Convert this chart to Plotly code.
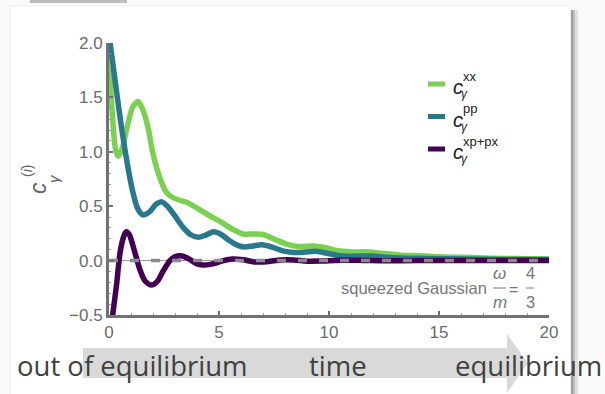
import plotly.graph_objects as go

# ---------------- data ----------------
t_xx = [0.0, 0.15, 0.3, 0.42, 0.6, 0.85, 1.1, 1.33, 1.55, 1.8, 1.95, 2.1, 2.35, 2.6, 2.9, 3.2,
        3.6, 4.1, 4.6, 5.05, 5.6, 6.1, 6.6, 7.0, 7.6, 8.1, 8.6, 9.3, 9.8, 10.4, 11.0, 11.8,
        12.5, 13.3, 14.2, 15.0, 16.0, 17.0, 18.0, 19.0, 20.0]
v_xx = [1.88, 1.35, 1.02, 0.96, 1.03, 1.25, 1.42, 1.46, 1.38, 1.2, 1.03, 0.9, 0.74, 0.63, 0.58, 0.555,
        0.53, 0.47, 0.41, 0.36, 0.29, 0.245, 0.245, 0.24, 0.19, 0.15, 0.13, 0.135, 0.12, 0.09, 0.08, 0.08,
        0.065, 0.05, 0.045, 0.035, 0.03, 0.025, 0.02, 0.018, 0.015]

t_pp = [0.05, 0.3, 0.55, 0.8, 1.05, 1.3, 1.55, 1.85, 2.15, 2.4, 2.7, 3.0, 3.35, 3.7, 4.05, 4.4,
        4.75, 5.1, 5.5, 5.85, 6.15, 6.55, 6.95, 7.4, 7.9, 8.4, 8.9, 9.4, 9.9, 10.4, 10.9, 11.5,
        12.0, 12.6, 13.5, 14.5, 16.0, 18.0, 20.0]
v_pp = [2.0, 1.62, 1.25, 0.93, 0.66, 0.48, 0.42, 0.45, 0.52, 0.54, 0.49, 0.41, 0.31, 0.24, 0.215, 0.235,
        0.265, 0.24, 0.18, 0.14, 0.125, 0.135, 0.145, 0.125, 0.09, 0.075, 0.078, 0.085, 0.068, 0.048, 0.04, 0.043,
        0.042, 0.03, 0.022, 0.02, 0.015, 0.01, 0.01]

t_xp = [0.0, 0.17, 0.35, 0.5, 0.65, 0.78, 0.92, 1.1, 1.4, 1.65, 1.95, 2.2, 2.45, 2.77, 3.0, 3.25,
        3.6, 4.0, 4.35, 4.8, 5.2, 5.6, 6.1, 6.6, 7.2, 7.8, 8.4, 9.0, 9.6, 10.5, 11.5, 12.5,
        14.0, 16.0, 20.0]
v_xp = [-0.85, -0.5, -0.21, 0.07, 0.21, 0.265, 0.24, 0.13, -0.08, -0.19, -0.225, -0.19, -0.1, 0.0, 0.035, 0.045,
        0.02, -0.03, -0.04, -0.025, 0.0, 0.015, 0.008, -0.012, -0.01, 0.006, 0.006, -0.005, -0.004, 0.003, 0.002, -0.002,
        0.0, 0.0, 0.0]

eq_t = [0, 20]
eq_v = [0, 0]

x_ticks = [0, 5, 10, 15, 20]
y_ticks = [-0.5, 0.0, 0.5, 1.0, 1.5, 2.0]

names = ["c_γ^xx", "c_γ^pp", "c_γ^xp+px"]
sups = ["xx", "pp", "xp+px"]
colors = ["#7ad151", "#2a788e", "#440154"]

# ---------------- geometry helpers ----------------
W, H = 605, 394
L, R, T, B = 109, 549, 43, 315


def px(x):
    return (x - L) / (R - L)


def py(y):
    return (B - y) / (B - T)


fig = go.Figure()
for t, v, c, n in [(t_xx, v_xx, colors[0], names[0]),
                   (t_pp, v_pp, colors[1], names[1]),
                   (t_xp, v_xp, colors[2], names[2])]:
    fig.add_trace(go.Scatter(x=t, y=v, mode="lines", name=n, showlegend=False,
                             line=dict(color=c, width=5.5, shape="spline", smoothing=0.8)))
fig.add_trace(go.Scatter(x=eq_t, y=eq_v, mode="lines", showlegend=False,
                         line=dict(color="#8a8a8a", width=3.5, dash="9px,12px")))

axis_col = "#727272"
tick_font = dict(family="Liberation Sans, Arial", size=17, color="#6b6b6b")

shapes = []
# background card
shapes.append(dict(type="rect", xref="paper", yref="paper", layer="below",
                   x0=px(10), x1=px(571), y0=py(6), y1=py(400),
                   fillcolor="white", line=dict(color="#ececec", width=1)))
# right shadow
for x0, x1, col in [(571, 573, "#9c9c9c"), (573, 575, "#bdbdbd"), (575, 578, "#e0e0e0")]:
    shapes.append(dict(type="rect", xref="paper", yref="paper", layer="below",
                       x0=px(x0), x1=px(x1), y0=py(10), y1=py(400),
                       fillcolor=col, line=dict(width=0)))
# top grey bar
shapes.append(dict(type="rect", xref="paper", yref="paper", layer="below",
                   x0=px(30), x1=px(127), y0=py(0), y1=py(3),
                   fillcolor="#bcbcbc", line=dict(width=0)))
# bottom arrow
shapes.append(dict(type="rect", xref="paper", yref="paper", layer="below",
                   x0=px(83), x1=px(508), y0=py(348), y1=py(378),
                   fillcolor="#d9d9d9", line=dict(width=0)))
shapes.append(dict(type="path", xref="paper", yref="paper", layer="below",
                   path=f"M {px(507)},{py(334)} L {px(528)},{py(363)} L {px(507)},{py(393)} Z",
                   fillcolor="#d9d9d9", line=dict(width=0)))
# legend swatches
leg_y = [84, 116.5, 149]
for yy, c in zip(leg_y, colors):
    shapes.append(dict(type="line", xref="paper", yref="paper",
                       x0=px(428), x1=px(445), y0=py(yy), y1=py(yy),
                       line=dict(color=c, width=5)))
# fraction bars
for x0, x1 in [(493, 506), (526, 534)]:
    shapes.append(dict(type="line", xref="paper", yref="paper",
                       x0=px(x0), x1=px(x1), y0=py(288), y1=py(288),
                       line=dict(color="#7a7a7a", width=1)))

ann = []


def txt(text, x, y, size, color, xanchor="center", family="Liberation Sans, Arial", angle=0):
    ann.append(dict(text=text, x=px(x), y=py(y), xref="paper", yref="paper",
                    xanchor=xanchor, yanchor="middle", showarrow=False, textangle=angle,
                    borderpad=0,
                    font=dict(family=family, size=size, color=color)))


# legend labels
for yy, s in zip(leg_y, sups):
    txt("<i>c</i>", 452, yy + 3, 20, "#222", xanchor="left")
    txt(s, 462, yy - 8, 13, "#222", xanchor="left")
    txt("<i>γ</i>", 459.5, yy + 10, 12, "#222", xanchor="left")

# y axis title (rotated)
txt("<i>c</i>", 38, 188, 23, "#666", angle=-90)
txt("<i>γ</i>", 53, 179, 15, "#666", angle=-90)
txt("(<i>i</i>)", 27, 171, 14, "#666", angle=-90)

# squeezed Gaussian label
txt("squeezed Gaussian", 488, 288, 16.5, "#777", xanchor="right")
txt("<i>ω</i>", 499.5, 273, 17, "#777")
txt("<i>m</i>", 499.5, 302, 17, "#777")
txt("=", 513, 289, 16, "#777")
txt("4", 530, 273, 16.5, "#777")
txt("3", 530, 302, 16.5, "#777")

# bottom texts
txt("out of equilibrium", 16, 365, 27.5, "#404040", xanchor="left", family="Open Sans")
txt("time", 338, 365, 27.5, "#404040", family="Open Sans")
txt("equilibrium", 603, 365, 27.5, "#404040", xanchor="right", family="Open Sans")

fig.update_layout(
    width=W, height=H, autosize=False,
    margin=dict(l=L, r=W - R, t=T, b=H - B, pad=0),
    paper_bgcolor="#fafafa", plot_bgcolor="rgba(0,0,0,0)",
    showlegend=False,
    shapes=shapes, annotations=ann,
    xaxis=dict(range=[0, 20], tickvals=x_ticks, showgrid=False, zeroline=False,
               showline=True, linecolor=axis_col, linewidth=3,
               ticks="inside", ticklen=4, tickwidth=1.5, tickcolor=axis_col,
               minor=dict(ticks="inside", ticklen=2, dtick=1, tickcolor="#999", tickwidth=1, showgrid=False),
               tickfont=tick_font),
    yaxis=dict(range=[-0.5, 2.0], tickvals=y_ticks, tickformat=".1f", showgrid=False,
               zeroline=True, zerolinecolor="#9a9a9a", zerolinewidth=1,
               showline=True, linecolor=axis_col, linewidth=3,
               ticks="inside", ticklen=4, tickwidth=1.5, tickcolor=axis_col,
               minor=dict(ticks="inside", ticklen=2, dtick=0.1, tickcolor="#999", tickwidth=1, showgrid=False),
               tickfont=tick_font),
)

fig.write_html("out.html")
